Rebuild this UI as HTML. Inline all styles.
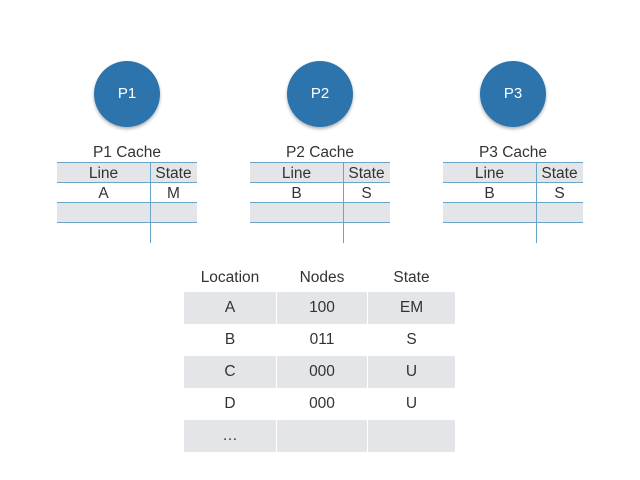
<!DOCTYPE html>
<html><head><meta charset="utf-8"><style>
body{margin:0;width:640px;height:480px;background:#fff;position:relative;overflow:hidden;font-family:"Liberation Sans",sans-serif;color:#333}
div{position:absolute;box-sizing:border-box}
.c{width:66px;height:66px;border-radius:50%;background:#2d74ad;color:#fff;font-size:15px;line-height:66px;text-align:center;box-shadow:0 2px 3px rgba(0,0,0,.3)}
.t{font-size:15.5px;text-align:center;width:140px}
.g{background:#e4e5e9}
.h{height:1px;background:#6aa5c8}
.v{width:1px;background:#6aa5c8}
.cell{font-size:15.5px;text-align:center;line-height:21px}
.bc{font-size:15.5px;text-align:center;line-height:32px}
</style></head><body>
<div id="root"></div>
<script>
const procs=["P1","P2","P3"];
const lines=["A","B","B"];
const states=["M","S","S"];
const xs=[57,250,443];
const dirLoc=["A","B","C","D","…"];
const dirNodes=["100","011","000","000",""];
const dirState=["EM","S","U","U",""];
function mk(cls,style,text,name){const d=document.createElement('div');d.className=cls;d.style.cssText=style;if(text!==undefined)d.textContent=text;


document.body.appendChild(d);return d;}
procs.forEach((p,i)=>{const x=xs[i];
mk('c',`left:${x+37}px;top:61px`,p,'processor-'+p.toLowerCase());
mk('t',`left:${x}px;top:144px`,p+' Cache','cache-title-'+p.toLowerCase());
mk('g',`left:${x}px;top:162px;width:140px;height:20px`,undefined,'cache-header-bg');
mk('g',`left:${x}px;top:203px;width:140px;height:20px`,undefined,'cache-empty-row-bg');
[162,182,202,222].forEach(y=>mk('h',`left:${x}px;top:${y}px;width:140px`,undefined,'cache-row-line'));
mk('v',`left:${x+93}px;top:162px;height:81px`,undefined,'cache-column-divider');
mk('cell',`left:${x}px;top:163px;width:93px`,'Line','cache-line-header');
mk('cell',`left:${x+93}px;top:163px;width:47px`,'State','cache-state-header');
mk('cell',`left:${x}px;top:183px;width:93px`,lines[i],'cache-line-value');
mk('cell',`left:${x+93}px;top:183px;width:47px`,states[i],'cache-state-value');
});
const cx=[184,277,368],cw=[92,90,87];
['Location','Nodes','State'].forEach((h,j)=>mk('bc',`left:${cx[j]}px;top:262px;width:${cw[j]}px`,h,'directory-header-'+h.toLowerCase()));
dirLoc.forEach((l,i)=>{const y=292+i*32;const vals=[l,dirNodes[i],dirState[i]];
for(let j=0;j<3;j++){mk('bc'+(i%2==0?' g':''),`left:${cx[j]}px;top:${y}px;width:${cw[j]}px;height:32px`,vals[j],'directory-cell');}
});
</script>
</body></html>
